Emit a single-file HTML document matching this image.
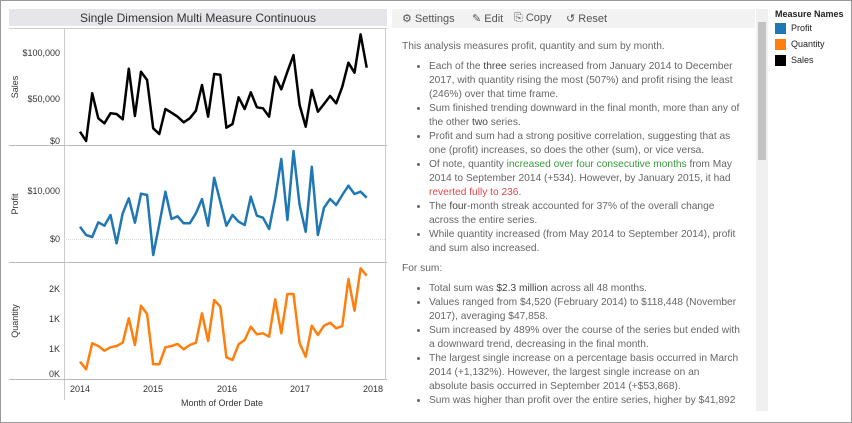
<!DOCTYPE html>
<html><head><meta charset="utf-8"><style>
body{margin:0;width:852px;height:423px;overflow:hidden;background:#fff;font-family:"Liberation Sans",sans-serif;}
.frame{position:absolute;left:0;top:0;width:850px;height:421px;border:1px solid #9a9a9a;}
.tb{position:absolute;left:392px;top:9px;width:363px;height:19px;background:#f2f2f2;font-size:11px;color:#555;}
.tb span{position:absolute;top:3px;}
.txt{position:absolute;left:402px;top:40px;width:338px;font-size:10.2px;line-height:14px;color:#666;}
.txt p{margin:0 0 6px 0;}
.txt ul{margin:0 0 6px 0;padding-left:27px;}
.txt li{margin:0;}
.g{color:#3a9a3a}.r{color:#e0474c}.b{color:#444}
.sb{position:absolute;left:756px;top:9px;width:12px;height:402px;background:#f0f0f0;}
.th{position:absolute;left:758px;top:22px;width:8px;height:138px;background:#c2c2c2;}
.lg{position:absolute;left:775px;top:9px;font-size:9px;color:#222;}
.lg div{position:relative;height:16px;}
.sw{display:inline-block;width:11px;height:11px;vertical-align:middle;margin-right:5px;}
</style></head><body>
<div class="frame"></div>
<svg width="852" height="423" style="position:absolute;left:0;top:0" font-family="Liberation Sans, sans-serif">
<rect x="9" y="9" width="378" height="17" fill="#e6e6ea"/>
<text x="198" y="22" font-size="12" text-anchor="middle" fill="#333">Single Dimension Multi Measure Continuous</text>
<line x1="64.5" y1="28" x2="64.5" y2="400" stroke="#ccc"/>
<line x1="9" y1="28.5" x2="387" y2="28.5" stroke="#ccc"/>
<line x1="9" y1="145.5" x2="387" y2="145.5" stroke="#bbb"/>
<line x1="9" y1="262.5" x2="387" y2="262.5" stroke="#bbb"/>
<line x1="9" y1="379.5" x2="387" y2="379.5" stroke="#bbb"/>
<line x1="385.5" y1="28" x2="385.5" y2="380" stroke="#ccc"/>
<line x1="64" y1="239.5" x2="385" y2="239.5" stroke="#ddd" stroke-dasharray="1,1"/>
<g font-size="9" fill="#333" text-anchor="end">
<text x="60" y="56">$100,000</text><text x="60" y="102">$50,000</text><text x="60" y="144">$0</text>
<text x="60" y="194">$10,000</text><text x="60" y="242">$0</text>
<text x="60" y="292">2K</text><text x="60" y="322">1K</text><text x="60" y="352">1K</text><text x="60" y="377">0K</text>
</g>
<g font-size="9" fill="#333" text-anchor="middle">
<text x="80" y="392">2014</text><text x="153" y="392">2015</text><text x="227" y="392">2016</text><text x="300" y="392">2017</text><text x="373" y="392">2018</text>
<text x="222" y="406">Month of Order Date</text>
</g>
<g font-size="9" fill="#333" text-anchor="middle">
<text transform="translate(18,87) rotate(-90)">Sales</text>
<text transform="translate(18,204) rotate(-90)">Profit</text>
<text transform="translate(18,321) rotate(-90)">Quantity</text>
</g>
<polyline id="s" fill="none" stroke="#000" stroke-width="2.5" stroke-linejoin="round"/>
<polyline id="p" fill="none" stroke="#1f77b4" stroke-width="2.5" stroke-linejoin="round"/>
<polyline id="q" fill="none" stroke="#ff7f0e" stroke-width="2.5" stroke-linejoin="round"/>
</svg>
<div class="tb"><span style="left:10px">⚙ Settings</span><span style="left:80px">✎ Edit</span><span style="left:122px">⎘ Copy</span><span style="left:174px">↺ Reset</span></div>
<div class="sb"></div><div class="th"></div>
<div class="lg"><div style="font-weight:bold;height:14px">Measure Names</div>
<div><span class="sw" style="background:#1f77b4"></span>Profit</div>
<div><span class="sw" style="background:#ff7f0e"></span>Quantity</div>
<div><span class="sw" style="background:#000"></span>Sales</div></div>
<div class="txt">
<p>This analysis measures profit, quantity and sum by month.</p>
<ul>
<li>Each of the <span class="b">three</span> series increased from January 2014 to December 2017, with quantity rising the most (507%) and profit rising the least (246%) over that time frame.</li>
<li>Sum finished trending downward in the final month, more than any of the other <span class="b">two</span> series.</li>
<li>Profit and sum had a strong positive correlation, suggesting that as one (profit) increases, so does the other (sum), or vice versa.</li>
<li>Of note, quantity <span class="g">increased over four consecutive months</span> from May 2014 to September 2014 (+534). However, by January 2015, it had <span class="r">reverted fully to 236</span>.</li>
<li>The <span class="b">four</span>-month streak accounted for 37% of the overall change across the entire series.</li>
<li>While quantity increased (from May 2014 to September 2014), profit and sum also increased.</li>
</ul>
<p>For sum:</p>
<ul>
<li>Total sum was <span class="b">$2.3 million</span> across all 48 months.</li>
<li>Values ranged from $4,520 (February 2014) to $118,448 (November 2017), averaging $47,858.</li>
<li>Sum increased by 489% over the course of the series but ended with a downward trend, decreasing in the final month.</li>
<li>The largest single increase on a percentage basis occurred in March 2014 (+1,132%). However, the largest single increase on an absolute basis occurred in September 2014 (+$53,868).</li>
<li>Sum was higher than profit over the entire series, higher by $41,892</li>
</ul>
</div>
<script>
var S=[395,423,280,355,370,340,342,358,206,348,215,240,385,402,327,338,350,367,355,332,255,350,222,224,383,372,292,327,277,322,325,350,230,268,215,165,315,380,270,335,312,288,310,260,188,218,103,203];
var P=[245,270,276,232,242,210,295,205,160,233,146,150,330,238,140,222,214,235,235,205,162,242,98,170,242,210,230,240,155,212,218,252,160,42,225,18,180,260,65,270,188,162,180,150,122,147,140,158];
var Q=[455,478,400,408,422,412,408,398,325,405,287,312,463,463,412,408,402,418,405,398,310,393,270,290,442,450,403,390,350,373,370,380,268,370,252,252,400,440,347,375,347,338,355,348,207,302,175,197];
function pts(a,o){return a.map(function(v,i){return (80+i*6.1).toFixed(1)+","+(o+v/3).toFixed(1)}).join(" ")}
document.getElementById("s").setAttribute("points",pts(S,0));
document.getElementById("p").setAttribute("points",pts(P,145));
document.getElementById("q").setAttribute("points",pts(Q,210));
</script>
</body></html>
